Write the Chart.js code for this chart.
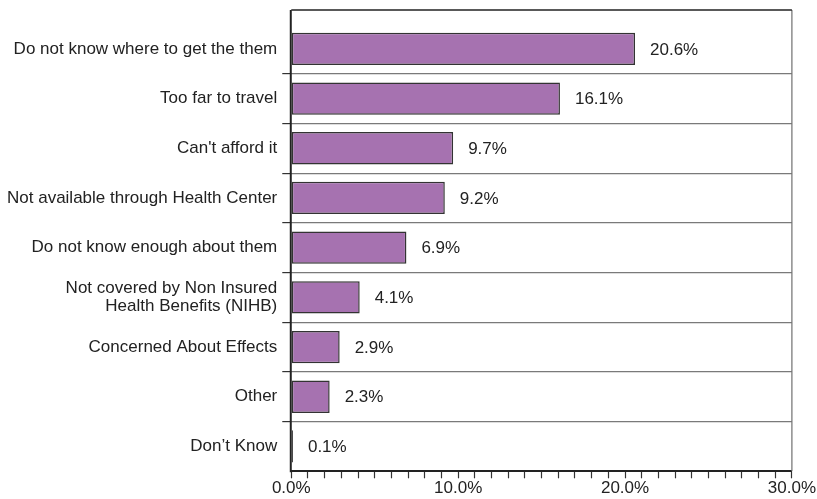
<!DOCTYPE html>
<html>
<head>
<meta charset="utf-8">
<script src="https://cdn.jsdelivr.net/npm/chart.js@4/dist/chart.umd.min.js"></script>
<style>
  html, body { margin: 0; padding: 0; background: #ffffff; }
  #wrap { width: 817px; height: 499px; }
</style>
</head>
<body>
<div id="wrap"><canvas id="chart"></canvas></div>
<script>
// Reasons given for not using the services (share of respondents, %)
const categories = [
  'Do not know where to get the them',
  'Too far to travel',
  "Can't afford it",
  'Not available through Health Center',
  'Do not know enough about them',
  ['Not covered by Non Insured', 'Health Benefits (NIHB)'],
  'Concerned About Effects',
  'Other',
  'Don\u2019t Know'
];
const shares = [20.6, 16.1, 9.7, 9.2, 6.9, 4.1, 2.9, 2.3, 0.1];
const axisMin = 0;
const axisMax = 30;
const majorStep = 10;

const FONT = '"Liberation Sans", Arial, Helvetica, sans-serif';
const TEXT = '#222222';
const SIZE = 17;

// Writes each bar's value just past its end
const valueLabels = {
  id: 'valueLabels',
  afterDatasetsDraw(chart) {
    const { ctx } = chart;
    const meta = chart.getDatasetMeta(0);
    ctx.save();
    ctx.font = SIZE + 'px ' + FONT;
    ctx.fillStyle = TEXT;
    ctx.textAlign = 'left';
    ctx.textBaseline = 'middle';
    meta.data.forEach((bar, i) => {
      ctx.fillText(shares[i].toFixed(1) + '%', bar.x + 15, bar.y + 1);
    });
    ctx.restore();
  }
};

// Plot frame, drawn under the bars: the left axis and top edge
// sit a little above the first band
const HEADROOM = 14;
const plotFrame = {
  id: 'plotFrame',
  beforeDatasetsDraw(chart) {
    const { ctx, chartArea: a } = chart;
    const top = a.top - HEADROOM;
    ctx.save();
    ctx.strokeStyle = '#6f6f6f';
    ctx.lineWidth = 1.2;
    ctx.beginPath();
    ctx.moveTo(a.right, top);
    ctx.lineTo(a.right, a.bottom);
    ctx.stroke();
    ctx.strokeStyle = '#222222';
    ctx.lineWidth = 1.5;
    ctx.beginPath();
    ctx.moveTo(a.left, top);
    ctx.lineTo(a.right, top);
    ctx.stroke();
    ctx.lineWidth = 2;
    ctx.beginPath();
    ctx.moveTo(a.left - 0.5, top);
    ctx.lineTo(a.left - 0.5, a.bottom + 1);
    ctx.stroke();
    ctx.restore();
  }
};

new Chart(document.getElementById('chart'), {
  type: 'bar',
  data: {
    labels: categories,
    datasets: [{
      data: shares,
      backgroundColor: '#a672b0',
      borderColor: '#333333',
      borderWidth: 1.5,
      borderSkipped: false,
      categoryPercentage: 1,
      barPercentage: 0.65
    }]
  },
  options: {
    indexAxis: 'y',
    responsive: true,
    maintainAspectRatio: false,
    animation: false,
    devicePixelRatio: 1,
    layout: { padding: { left: 2, top: 24, right: 0, bottom: 0 } },
    plugins: {
      legend: { display: false },
      tooltip: { enabled: false }
    },
    scales: {
      x: {
        type: 'linear',
        min: axisMin,
        max: axisMax,
        border: { display: true, color: '#222222', width: 2 },
        grid: {
          drawOnChartArea: false,
          drawTicks: true,
          tickLength: 7,
          tickColor: '#333333',
          tickWidth: 1.2
        },
        ticks: {
          stepSize: 1,
          autoSkip: false,
          maxRotation: 0,
          padding: 1,
          color: TEXT,
          font: { family: FONT, size: SIZE, lineHeight: 1.1 },
          callback: v => (v % majorStep === 0 ? v.toFixed(1) + '%' : '')
        }
      },
      y: {
        type: 'category',
        border: { display: false },
        grid: {
          offset: true,
          drawTicks: true,
          tickLength: 9,
          lineWidth: 1.2,
          color: c => (c.type === 'tick' && c.index > 0 ? '#7a7a7a' : 'rgba(0,0,0,0)'),
          tickColor: c => (c.type === 'tick' && c.index > 0 ? '#333333' : 'rgba(0,0,0,0)')
        },
        ticks: {
          padding: 5,
          color: TEXT,
          font: { family: FONT, size: SIZE, lineHeight: 1.1 }
        }
      }
    }
  },
  plugins: [valueLabels, plotFrame]
});
</script>
</body>
</html>
